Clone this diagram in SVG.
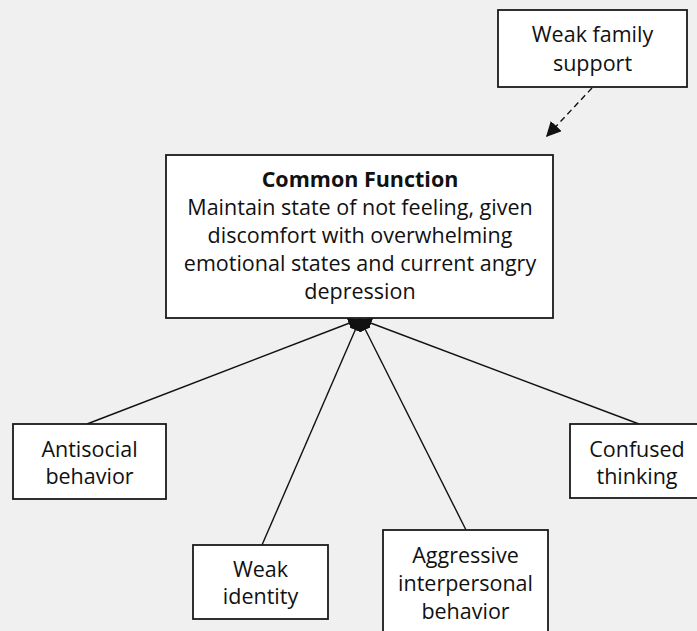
<svg xmlns="http://www.w3.org/2000/svg" width="697" height="631" viewBox="0 0 697 631">
  <style>
    .box { fill: #ffffff; stroke: #1a1a1a; stroke-width: 1.8; }
    .lbl { font-family: "Open Sans", "Noto Sans", sans-serif; font-size: 21.5px; fill: #111111; text-anchor: middle; }
    .bold { font-weight: bold; }
    .link { stroke: #111111; stroke-width: 1.4; fill: none; }
    .dash { stroke: #111111; stroke-width: 1.4; fill: none; stroke-dasharray: 6 4; }
  </style>
  <defs>
    <marker id="head" viewBox="0 0 10 10" refX="10" refY="5" markerWidth="12" markerHeight="12" markerUnits="userSpaceOnUse" orient="auto">
      <path d="M0,0 L10,5 L0,10 z" fill="#111111"/>
    </marker>
    <marker id="headBig" viewBox="0 0 10 10" refX="10" refY="5" markerWidth="15" markerHeight="15" markerUnits="userSpaceOnUse" orient="auto">
      <path d="M0,0 L10,5 L0,10 z" fill="#111111"/>
    </marker>
  </defs>
  <rect width="697" height="631" fill="#f0f0f0"/>

  <g id="connectors">
    <line class="dash" x1="592" y1="88" x2="546" y2="137" marker-end="url(#headBig)"/>
    <line class="link" x1="87" y1="424" x2="360" y2="319" marker-end="url(#head)"/>
    <line class="link" x1="262" y1="545" x2="360" y2="319" marker-end="url(#head)"/>
    <line class="link" x1="466" y1="530" x2="360" y2="319" marker-end="url(#head)"/>
    <line class="link" x1="639" y1="424" x2="360" y2="319" marker-end="url(#head)"/>
  </g>

  <g id="weak-family-support">
    <rect class="box" x="498" y="10" width="189" height="77"/>
    <text class="lbl" x="592.5" y="42">Weak family</text>
    <text class="lbl" x="592.5" y="71">support</text>
  </g>

  <g id="common-function">
    <rect class="box" x="166" y="155" width="387" height="163"/>
    <text class="lbl bold" x="360" y="187">Common Function</text>
    <text class="lbl" x="360" y="215">Maintain state of not feeling, given</text>
    <text class="lbl" x="360" y="243">discomfort with overwhelming</text>
    <text class="lbl" x="360" y="271">emotional states and current angry</text>
    <text class="lbl" x="360" y="299">depression</text>
  </g>

  <g id="antisocial-behavior">
    <rect class="box" x="13" y="424" width="153" height="75"/>
    <text class="lbl" x="89.5" y="457">Antisocial</text>
    <text class="lbl" x="89.5" y="484">behavior</text>
  </g>

  <g id="weak-identity">
    <rect class="box" x="193" y="545" width="135" height="74"/>
    <text class="lbl" x="260.5" y="577">Weak</text>
    <text class="lbl" x="260.5" y="604">identity</text>
  </g>

  <g id="aggressive-interpersonal-behavior">
    <rect class="box" x="383" y="530" width="165" height="110"/>
    <text class="lbl" x="465.5" y="563">Aggressive</text>
    <text class="lbl" x="465.5" y="591">interpersonal</text>
    <text class="lbl" x="465.5" y="619">behavior</text>
  </g>

  <g id="confused-thinking">
    <rect class="box" x="570" y="424" width="134" height="74"/>
    <text class="lbl" x="637" y="457">Confused</text>
    <text class="lbl" x="637" y="484">thinking</text>
  </g>
</svg>
